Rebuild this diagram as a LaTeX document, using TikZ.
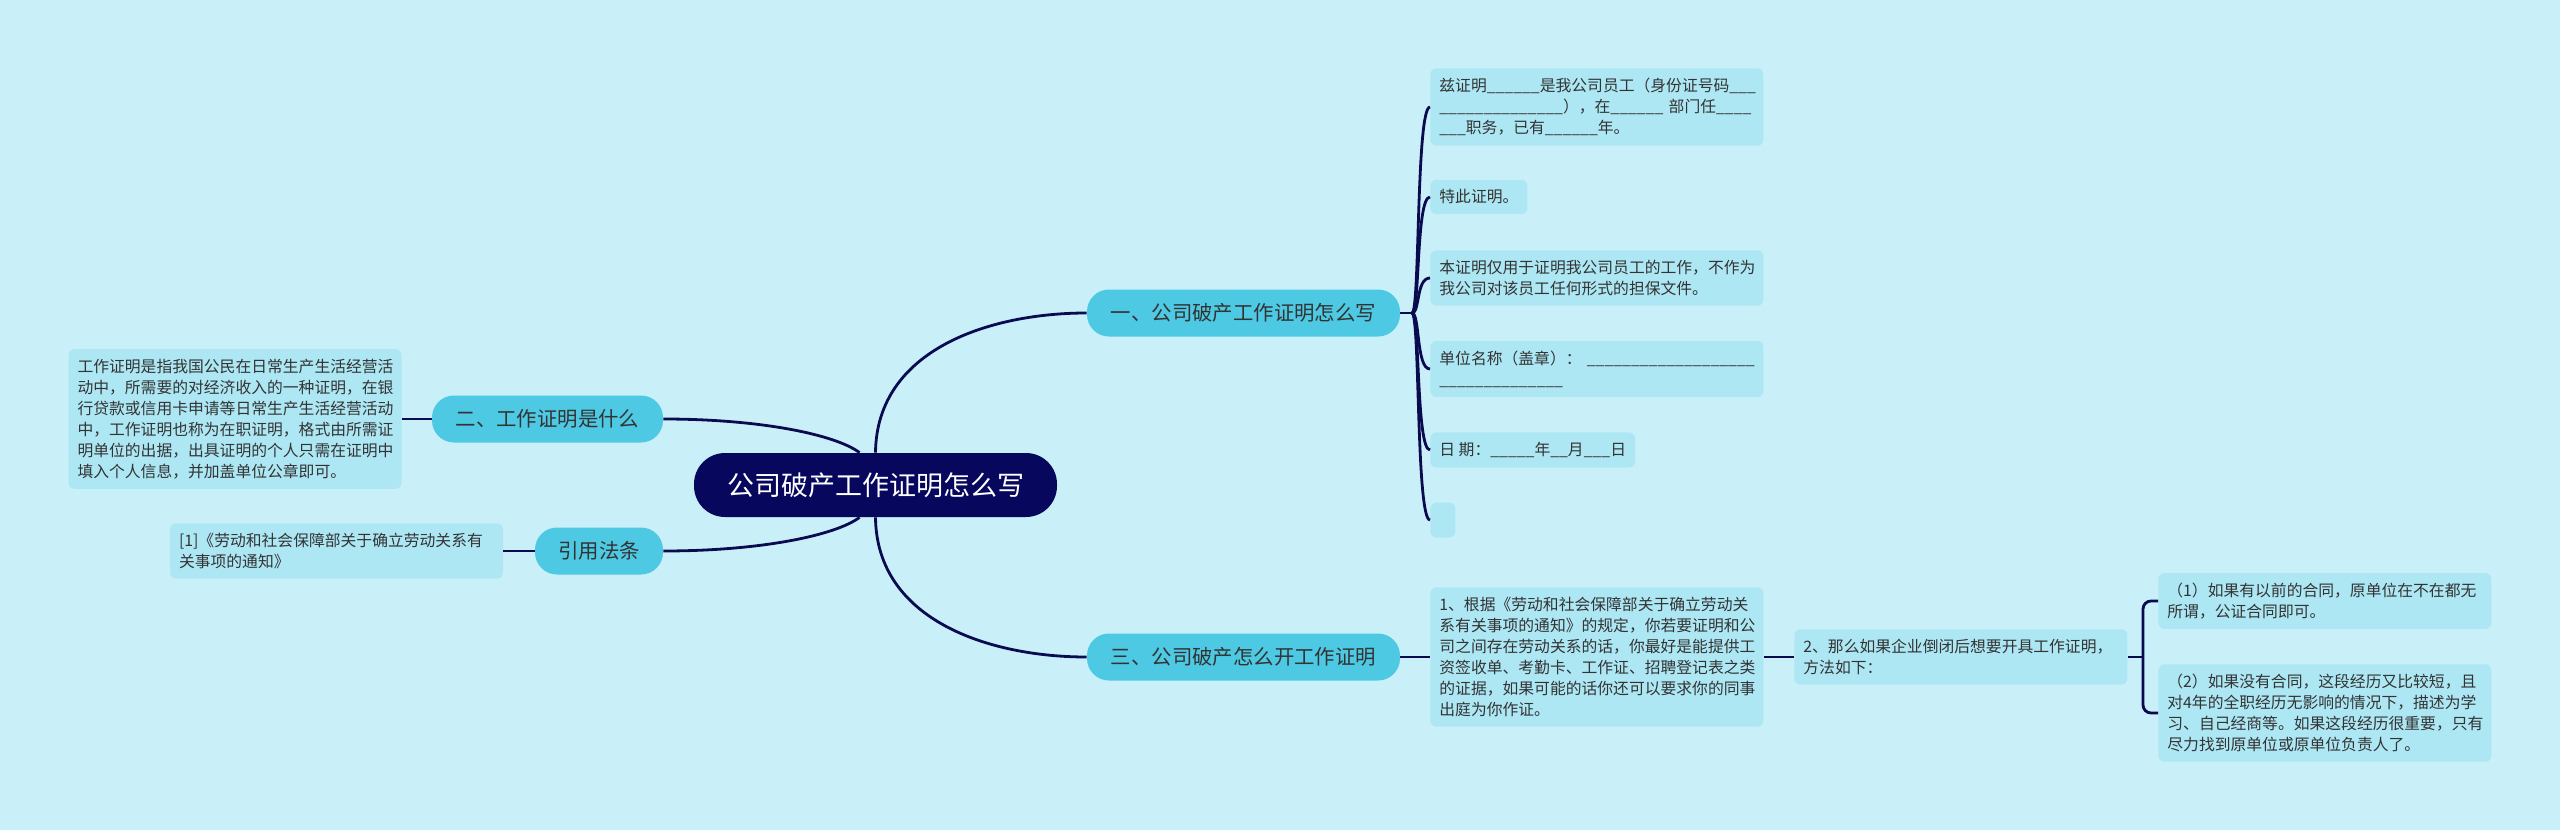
\documentclass[tikz,border=0pt]{standalone}
\usepackage{fontspec}
\setmainfont{Noto Sans CJK SC}
\usepackage{tikz}
\usetikzlibrary{calc}

\definecolor{bgcol}{HTML}{C9F0F8}
\definecolor{leafcol}{HTML}{ADE7F4}
\definecolor{brcol}{HTML}{4DC9E3}
\definecolor{rootcol}{HTML}{07075E}
\definecolor{linecol}{HTML}{0A0A50}
\definecolor{txtcol}{HTML}{333333}

\begin{document}
\begin{tikzpicture}[x=0.5pt,y=-0.5pt,
  leaf/.style={fill=leafcol, rounded corners=3pt, align=left, text=txtcol,
    inner xsep=4.5pt, inner ysep=4.9pt, font=\fontsize{7.9pt}{10.5pt}\selectfont},
  leafw/.style={leaf, text width=157.5pt},
  branch/.style={fill=brcol, rounded corners=11pt, minimum height=23.5pt,
    text=txtcol, font=\fontsize{10.2pt}{12pt}\selectfont},
  root/.style={fill=rootcol, rounded corners=15.5pt, minimum width=181.5pt,
    minimum height=32pt, text=white, font=\fontsize{13.5pt}{16pt}\selectfont},
  link/.style={draw=linecol, line width=1.4pt}]
\useasboundingbox (0,0) rectangle (2560,830);
\fill[bgcol] (0,0) rectangle (2560,830);

% centre and main topics
\node[root] (root) at (875.5,485) {公司破产工作证明怎么写};
\node[branch, minimum width=156.5pt] (b1) at (1243.5,313) {一、公司破产工作证明怎么写};
\node[branch, minimum width=156.5pt] (b3) at (1243.5,657) {三、公司破产怎么开工作证明};
\node[branch, minimum width=115.5pt] (b2) at (547.5,419) {二、工作证明是什么};
\node[branch, minimum width=64pt] (b4) at (599,551) {引用法条};

% left side
\node[leafw] (def) at (235,419) {工作证明是指我国公民在日常生产生活经营活\\
  动中，所需要的对经济收入的一种证明，在银\\
  行贷款或信用卡申请等日常生产生活经营活动\\
  中，工作证明也称为在职证明，格式由所需证\\
  明单位的出据，出具证明的个人只需在证明中\\
  填入个人信息，并加盖单位公章即可。};
\node[leafw] (cite) at (336.5,551) {[1]《劳动和社会保障部关于确立劳动关系有\\
  关事项的通知》};

% topic one
\node[leafw, anchor=west] (la) at (1430,107) {兹证明\_\_\_\_\_\_是我公司员工（身份证号码\_\_\_\\
  \_\_\_\_\_\_\_\_\_\_\_\_\_\_），在\_\_\_\_\_\_~部门任\_\_\_\_\\
  \_\_\_职务，已有\_\_\_\_\_\_年。};
\node[leaf, anchor=west] (lb) at (1430,197) {特此证明。};
\node[leafw, anchor=west] (lc) at (1430,278) {本证明仅用于证明我公司员工的工作，不作为\\
  我公司对该员工任何形式的担保文件。};
\node[leafw, anchor=west] (ld) at (1430,369) {单位名称（盖章）：~\_\_\_\_\_\_\_\_\_\_\_\_\_\_\_\_\_\_\_\\
  \_\_\_\_\_\_\_\_\_\_\_\_\_\_};
\node[leaf, anchor=west] (le) at (1430,450) {日~期：\_\_\_\_\_年\_\_月\_\_\_日};
\node[leaf, anchor=west, minimum width=12.5pt, minimum height=17.5pt] (lf) at (1430,520) {};

% topic three
\node[leafw, anchor=west] (l3) at (1430,657) {1、根据《劳动和社会保障部关于确立劳动关\\
  系有关事项的通知》的规定，你若要证明和公\\
  司之间存在劳动关系的话，你最好是能提供工\\
  资签收单、考勤卡、工作证、招聘登记表之类\\
  的证据，如果可能的话你还可以要求你的同事\\
  出庭为你作证。};
\node[leafw, anchor=west] (n2) at (1794,657) {2、那么如果企业倒闭后想要开具工作证明，\\
  方法如下：};
\node[leafw, anchor=west] (s1) at (2158,601) {（1）如果有以前的合同，原单位在不在都无\\
  所谓，公证合同即可。};
\node[leafw, anchor=west] (s2) at (2158,713) {（2）如果没有合同，这段经历又比较短，且\\
  对4年的全职经历无影响的情况下，描述为学\\
  习、自己经商等。如果这段经历很重要，只有\\
  尽力找到原单位或原单位负责人了。};

% connectors
\draw[link] (root.north) .. controls +(1,-103) and +(-97,0) .. (b1.west);
\draw[link] (root.south) .. controls +(1,103) and +(-97,0) .. (b3.west);
\draw[link] ([xshift=-8pt]root.north) .. controls +(-24,-18) and +(97,0) .. (b2.east);
\draw[link] ([xshift=-8pt]root.south) .. controls +(-24,18) and +(97,0) .. (b4.east);
\draw[link] (b2.west) -- (def.east);
\draw[link] (b4.west) -- (cite.east);

\coordinate (j1) at (1412,313);
\draw[link] (b1.east) -- (j1);
\foreach \n in {la,lb,lc,ld,le,lf}
  \draw[link] (j1) .. controls +(8,0) and +(-14,0) .. (\n.west);

\draw[link] (b3.east) -- (l3.west);
\draw[link] (l3.east) -- (n2.west);
\coordinate (j2) at (2143,657);
\draw[link] (n2.east) -- (j2);
\draw[link, rounded corners=4pt] (s1.west) -| (j2) |- (s2.west);
\end{tikzpicture}
\end{document}
